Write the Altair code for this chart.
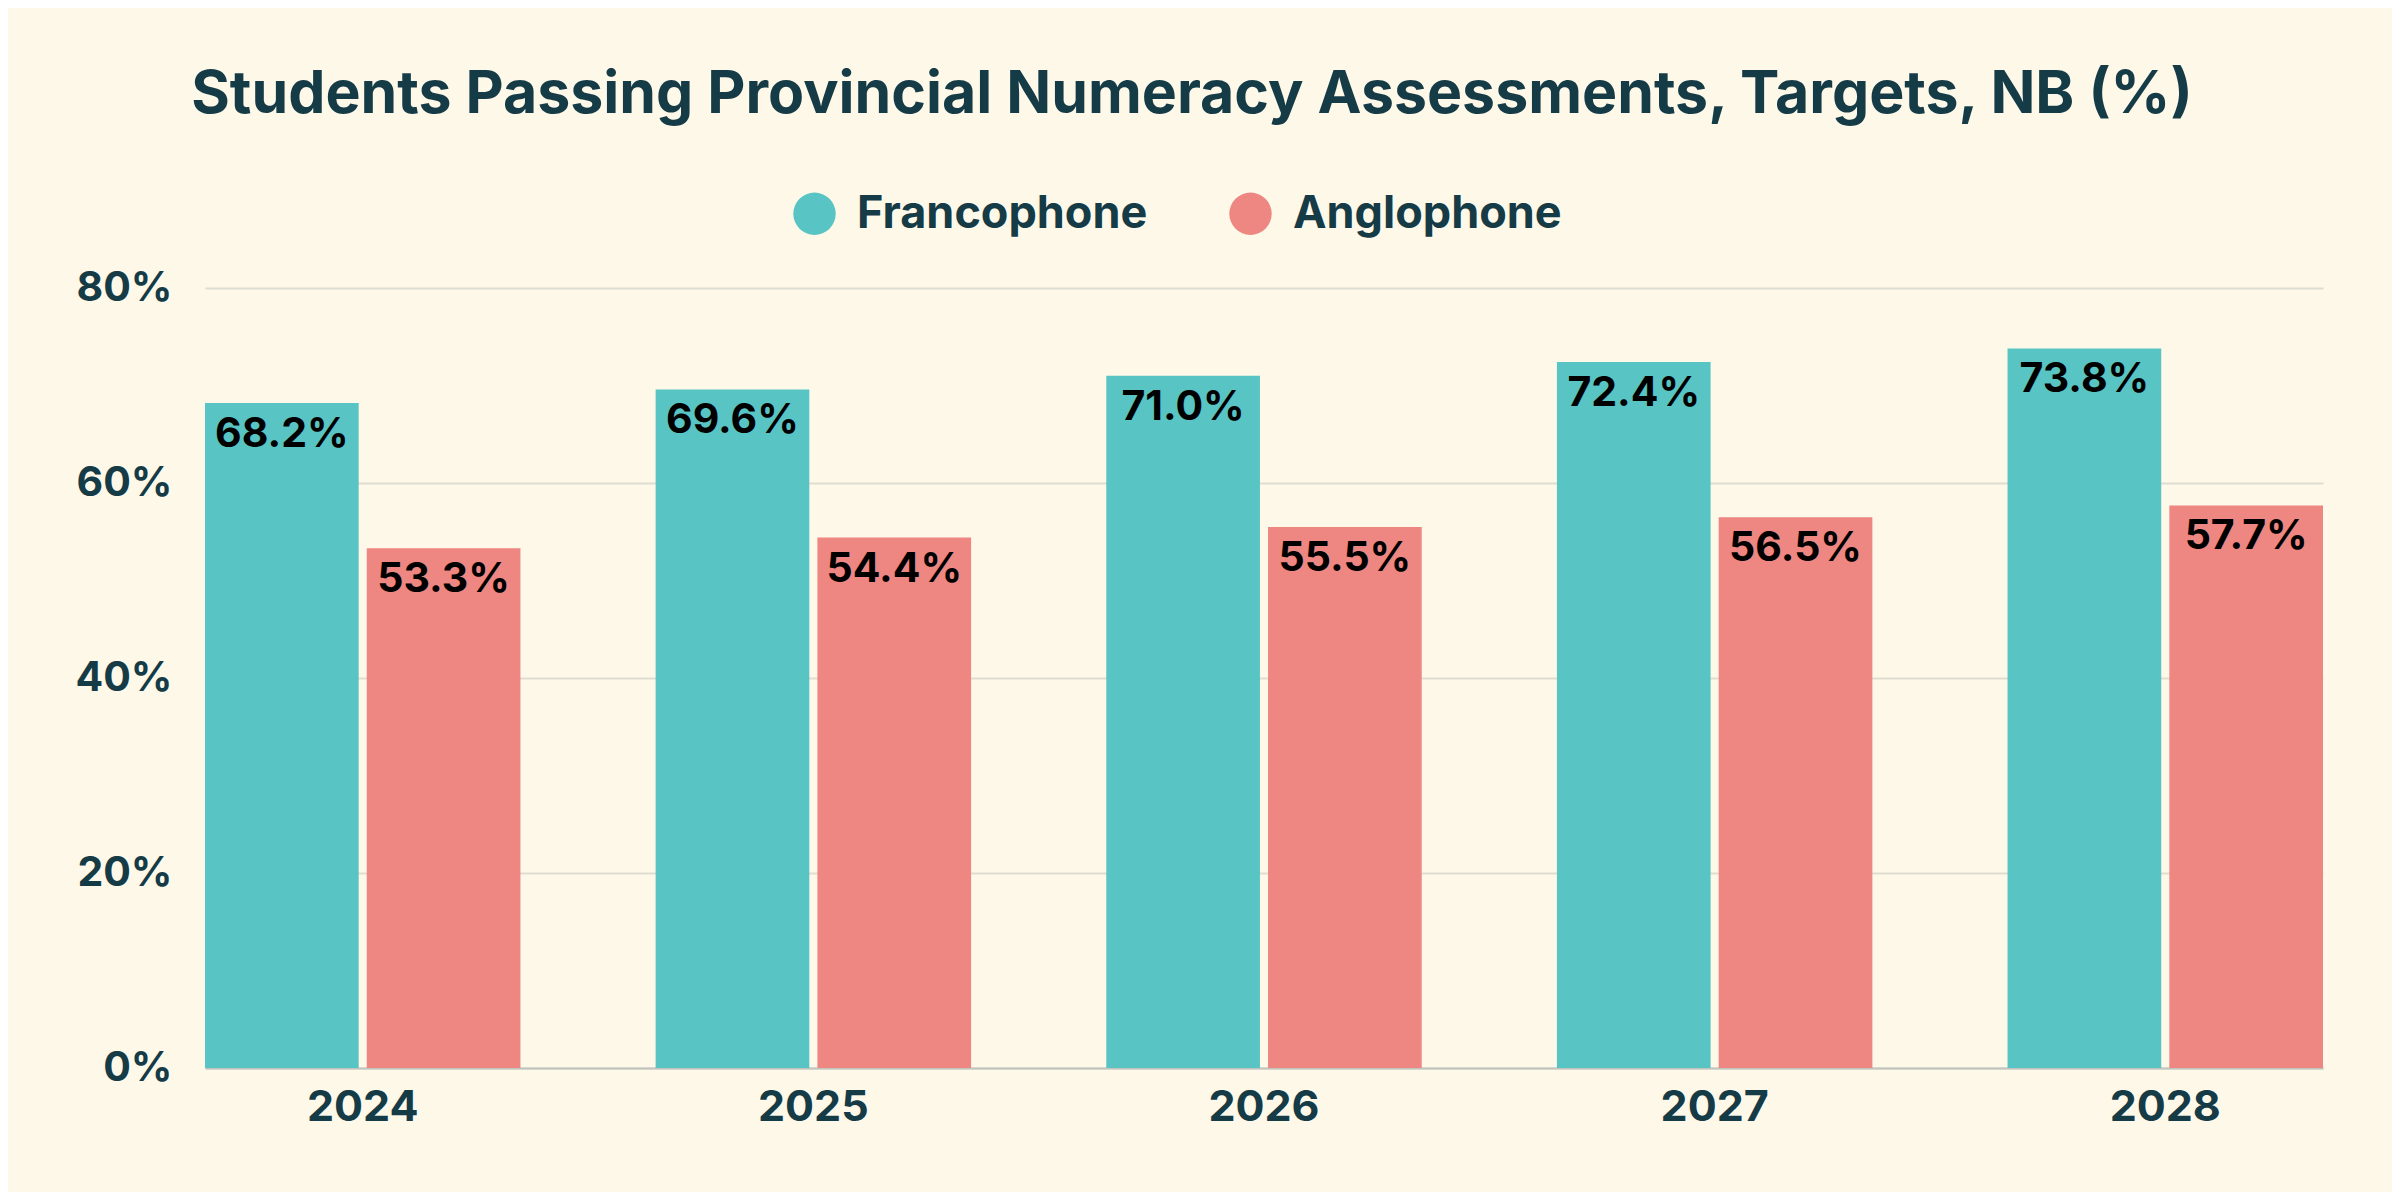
import altair as alt
import pandas as pd

years = ["2024", "2025", "2026", "2027", "2028"]
francophone = [68.2, 69.6, 71.0, 72.4, 73.8]
anglophone = [53.3, 54.4, 55.5, 56.5, 57.7]
series = ["Francophone", "Anglophone"]
colors = ["#58C4C4", "#EE8681"]
y_ticks = [0, 20, 40, 60, 80]

rows = []
for i, yr in enumerate(years):
    rows.append({"year": yr, "group": "Francophone", "value": francophone[i]})
    rows.append({"year": yr, "group": "Anglophone", "value": anglophone[i]})
df = pd.DataFrame(rows)

FONT = "Inter"
DARK = "#153B47"
BG = "#FEF8E9"

x = alt.X(
    "year:N", sort=years, title=None,
    scale=alt.Scale(paddingInner=0.3, paddingOuter=0),
    axis=alt.Axis(labelAngle=0, labelFont=FONT, labelFontSize=43, labelFontWeight="bold",
                  labelColor=DARK, labelPadding=18, ticks=False, domainColor="#BFC4BE",
                  domainWidth=2, grid=False),
)
xoff = alt.XOffset("group:N", sort=series, scale=alt.Scale(paddingInner=0.05))
y = alt.Y(
    "value:Q", title=None, scale=alt.Scale(domain=[0, 80]),
    axis=alt.Axis(values=y_ticks, labelExpr="datum.value + '%'", labelFont=FONT,
                  labelFontSize=41, labelFontWeight="bold", labelColor=DARK,
                  labelPadding=33, ticks=False, domain=False, grid=True,
                  gridColor="#DEDDD2", gridWidth=2),
)
color = alt.Color(
    "group:N", sort=series,
    scale=alt.Scale(domain=series, range=colors),
    legend=alt.Legend(title=None, orient="none", legendX=587, legendY=-97,
                      direction="horizontal", symbolType="circle", symbolSize=1800,
                      symbolStrokeWidth=0, symbolOpacity=1, labelFont=FONT,
                      labelFontSize=45, labelFontWeight="bold", labelColor=DARK,
                      labelLimit=0, columnPadding=80, labelOffset=20, padding=0),
)

bars = alt.Chart(df).mark_bar().encode(x=x, xOffset=xoff, y=y, color=color)
text = (
    alt.Chart(df)
    .transform_calculate(label="format(datum.value, '.1f') + '%'")
    .mark_text(baseline="top", dy=12, font=FONT, fontSize=41, fontWeight="bold", color="black")
    .encode(x=x, xOffset=xoff, y=y, text="label:N")
)

chart = (
    (bars + text)
    .properties(
        width=2118, height=780,
        title=alt.Title("Students Passing Provincial Numeracy Assessments, Targets, NB (%)",
                        font=FONT, fontSize=59, fontWeight="bold", color=DARK,
                        anchor="middle", offset=66, dx=-72),
        autosize=alt.AutoSizeParams(type="none"),
        padding={"left": 197, "top": 280, "right": 69, "bottom": 124},
        background=BG,
    )
    .configure_view(stroke=None)
)

chart.save("out.html", embed_options={"renderer": "svg", "actions": False})
